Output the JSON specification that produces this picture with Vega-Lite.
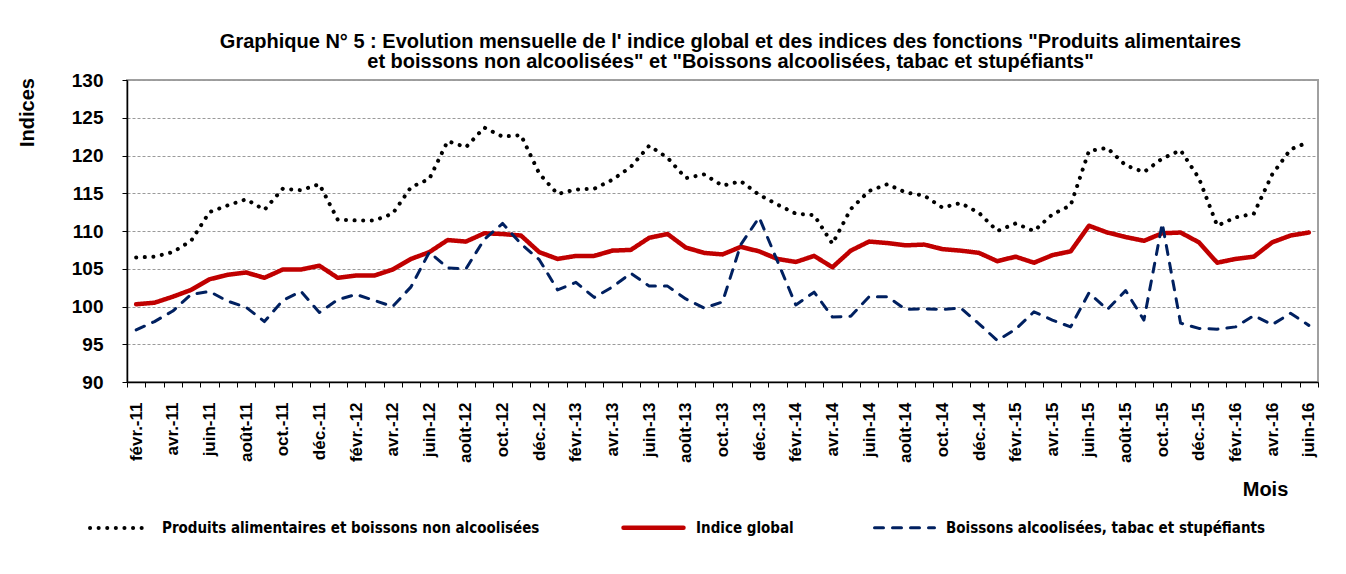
{
  "$schema": "https://vega.github.io/schema/vega-lite/v6.json",
  "width": 1191,
  "height": 302,
  "autosize": {"type": "none"},
  "padding": {"left": 127, "top": 80, "right": 28, "bottom": 192},
  "background": "white",
  "title": {
    "text": ["Graphique N° 5 : Evolution mensuelle de l' indice global  et des indices des fonctions \"Produits alimentaires", "et boissons  non alcoolisées\" et \"Boissons alcoolisées, tabac et stupéfiants\""],
    "font": "Liberation Sans",
    "fontSize": 20,
    "fontWeight": "bold",
    "anchor": "middle",
    "frame": "group",
    "offset": 6,
    "dx": 8,
    "dy": 7,
    "lineHeight": 20,
    "color": "#000000"
  },
  "data": {
    "values": [
      {"mois": "févr.-11", "alim": 106.5, "global": 100.3, "boissons": 96.9},
      {"mois": "mars-11", "alim": 106.6, "global": 100.5, "boissons": 98.0},
      {"mois": "avr.-11", "alim": 107.2, "global": 101.3, "boissons": 99.4},
      {"mois": "mai-11", "alim": 108.7, "global": 102.2, "boissons": 101.6},
      {"mois": "juin-11", "alim": 112.5, "global": 103.6, "boissons": 102.0},
      {"mois": "juil.-11", "alim": 113.4, "global": 104.2, "boissons": 100.7},
      {"mois": "août-11", "alim": 114.2, "global": 104.5, "boissons": 99.9},
      {"mois": "sept.-11", "alim": 112.8, "global": 103.8, "boissons": 98.0},
      {"mois": "oct.-11", "alim": 115.6, "global": 104.9, "boissons": 100.8},
      {"mois": "nov.-11", "alim": 115.4, "global": 104.9, "boissons": 102.0},
      {"mois": "déc.-11", "alim": 116.2, "global": 105.4, "boissons": 99.2},
      {"mois": "janv.-12", "alim": 111.5, "global": 103.8, "boissons": 100.9},
      {"mois": "févr.-12", "alim": 111.4, "global": 104.1, "boissons": 101.6},
      {"mois": "mars-12", "alim": 111.4, "global": 104.1, "boissons": 100.8},
      {"mois": "avr.-12", "alim": 112.3, "global": 104.9, "boissons": 100.0},
      {"mois": "mai-12", "alim": 115.8, "global": 106.3, "boissons": 102.6},
      {"mois": "juin-12", "alim": 116.9, "global": 107.2, "boissons": 107.2},
      {"mois": "juil.-12", "alim": 121.9, "global": 108.8, "boissons": 105.1},
      {"mois": "août-12", "alim": 121.1, "global": 108.6, "boissons": 105.0},
      {"mois": "sept.-12", "alim": 123.7, "global": 109.7, "boissons": 108.9},
      {"mois": "oct.-12", "alim": 122.5, "global": 109.6, "boissons": 111.0},
      {"mois": "nov.-12", "alim": 122.7, "global": 109.4, "boissons": 108.3},
      {"mois": "déc.-12", "alim": 117.6, "global": 107.2, "boissons": 106.2},
      {"mois": "janv.-13", "alim": 114.9, "global": 106.3, "boissons": 102.2},
      {"mois": "févr.-13", "alim": 115.5, "global": 106.7, "boissons": 103.2},
      {"mois": "mars-13", "alim": 115.6, "global": 106.7, "boissons": 101.2},
      {"mois": "avr.-13", "alim": 116.8, "global": 107.4, "boissons": 102.6},
      {"mois": "mai-13", "alim": 118.5, "global": 107.5, "boissons": 104.4},
      {"mois": "juin-13", "alim": 121.3, "global": 109.1, "boissons": 102.7},
      {"mois": "juil.-13", "alim": 119.7, "global": 109.6, "boissons": 102.7},
      {"mois": "août-13", "alim": 117.0, "global": 107.8, "boissons": 101.0},
      {"mois": "sept.-13", "alim": 117.5, "global": 107.1, "boissons": 99.8},
      {"mois": "oct.-13", "alim": 116.0, "global": 106.9, "boissons": 100.6},
      {"mois": "nov.-13", "alim": 116.6, "global": 107.9, "boissons": 108.2},
      {"mois": "déc.-13", "alim": 114.8, "global": 107.3, "boissons": 111.8},
      {"mois": "janv.-14", "alim": 113.5, "global": 106.3, "boissons": 106.0},
      {"mois": "févr.-14", "alim": 112.3, "global": 105.9, "boissons": 100.2},
      {"mois": "mars-14", "alim": 112.1, "global": 106.7, "boissons": 101.9},
      {"mois": "avr.-14", "alim": 108.3, "global": 105.2, "boissons": 98.6},
      {"mois": "mai-14", "alim": 112.9, "global": 107.4, "boissons": 98.7},
      {"mois": "juin-14", "alim": 115.3, "global": 108.6, "boissons": 101.3},
      {"mois": "juil.-14", "alim": 116.2, "global": 108.4, "boissons": 101.3},
      {"mois": "août-14", "alim": 115.1, "global": 108.1, "boissons": 99.6},
      {"mois": "sept.-14", "alim": 114.7, "global": 108.2, "boissons": 99.7},
      {"mois": "oct.-14", "alim": 113.1, "global": 107.6, "boissons": 99.6},
      {"mois": "nov.-14", "alim": 113.7, "global": 107.4, "boissons": 99.8},
      {"mois": "déc.-14", "alim": 112.4, "global": 107.1, "boissons": 97.7},
      {"mois": "janv.-15", "alim": 110.0, "global": 106.0, "boissons": 95.5},
      {"mois": "févr.-15", "alim": 111.0, "global": 106.6, "boissons": 97.0},
      {"mois": "mars-15", "alim": 110.0, "global": 105.8, "boissons": 99.3},
      {"mois": "avr.-15", "alim": 112.2, "global": 106.8, "boissons": 98.2},
      {"mois": "mai-15", "alim": 113.4, "global": 107.3, "boissons": 97.3},
      {"mois": "juin-15", "alim": 120.6, "global": 110.7, "boissons": 101.8},
      {"mois": "juil.-15", "alim": 121.0, "global": 109.8, "boissons": 99.6},
      {"mois": "août-15", "alim": 118.7, "global": 109.2, "boissons": 102.1},
      {"mois": "sept.-15", "alim": 117.8, "global": 108.7, "boissons": 98.2},
      {"mois": "oct.-15", "alim": 119.6, "global": 109.7, "boissons": 111.0},
      {"mois": "nov.-15", "alim": 120.7, "global": 109.8, "boissons": 97.8},
      {"mois": "déc.-15", "alim": 117.0, "global": 108.5, "boissons": 97.1},
      {"mois": "janv.-16", "alim": 110.7, "global": 105.8, "boissons": 97.0},
      {"mois": "févr.-16", "alim": 111.8, "global": 106.3, "boissons": 97.3},
      {"mois": "mars-16", "alim": 112.3, "global": 106.6, "boissons": 98.8},
      {"mois": "avr.-16", "alim": 117.5, "global": 108.5, "boissons": 97.6},
      {"mois": "mai-16", "alim": 120.8, "global": 109.4, "boissons": 99.1},
      {"mois": "juin-16", "alim": 121.8, "global": 109.8, "boissons": 97.5}
    ]
  },
  "transform": [{"fold": ["alim", "global", "boissons"], "as": ["serie", "valeur"]}],
  "mark": {"type": "line", "strokeCap": "round", "strokeJoin": "round"},
  "encoding": {
    "x": {
      "field": "mois",
      "type": "ordinal",
      "sort": null,
      "bandPosition": 0.5,
      "scale": {"type": "band", "paddingInner": 0, "paddingOuter": 0},
      "axis": {
        "title": "Mois",
        "titleFont": "Liberation Sans",
        "titleFontSize": 20,
        "titleFontWeight": "bold",
        "titleColor": "#000000",
        "titleX": 1138,
        "titleY": 107,
        "titleAlign": "center",
        "titleBaseline": "middle",
        "labelAngle": -90,
        "labelAlign": "right",
        "labelBaseline": "middle",
        "labelFont": "Liberation Sans",
        "labelFontSize": 17,
        "labelFontWeight": "bold",
        "labelColor": "#000000",
        "labelPadding": 15,
        "labelOverlap": false,
        "labelExpr": "test(/^(mars|mai|juil|sept|nov|janv)/, datum.value) ? '' : datum.value",
        "tickBand": "extent",
        "tickSize": 5,
        "tickColor": "#000000",
        "domainColor": "#000000",
        "domainWidth": 1.5,
        "grid": false
      }
    },
    "y": {
      "field": "valeur",
      "type": "quantitative",
      "scale": {"domain": [90, 130], "zero": false, "nice": false},
      "axis": {
        "values": [90, 95, 100, 105, 110, 115, 120, 125, 130],
        "title": "Indices",
        "titleFont": "Liberation Sans",
        "titleFontSize": 20,
        "titleFontWeight": "bold",
        "titleColor": "#000000",
        "titleX": -100,
        "titleY": 32,
        "titleAlign": "center",
        "titleBaseline": "middle",
        "titleAngle": -90,
        "labelFont": "Liberation Sans",
        "labelFontSize": 19,
        "labelFontWeight": "bold",
        "labelColor": "#000000",
        "labelPadding": 19,
        "tickSize": 5,
        "tickColor": "#000000",
        "domainColor": "#000000",
        "domainWidth": 1.5,
        "grid": true,
        "gridColor": "#9a9a9a",
        "gridDash": [3, 2],
        "gridWidth": 1
      }
    },
    "color": {
      "field": "serie",
      "type": "nominal",
      "scale": {"domain": ["alim", "global", "boissons"], "range": ["#000000", "#c00000", "#002060"]},
      "legend": {
        "orient": "none",
        "legendX": -39,
        "legendY": 415,
        "direction": "horizontal",
        "title": null,
        "symbolType": "stroke",
        "symbolSize": 3600,
        "symbolStrokeWidth": 3,
        "labelFont": "DejaVu Sans Condensed",
        "labelFontSize": 15,
        "labelFontWeight": "bold",
        "labelColor": "#000000",
        "labelOffset": 10,
        "labelLimit": 600,
        "columnPadding": 74,
        "labelExpr": "datum.value == 'alim' ? 'Produits alimentaires et boissons non alcoolisées' : datum.value == 'global' ? 'Indice global' : 'Boissons alcoolisées, tabac et stupéfiants'",
        "encode": {"symbols": {"update": {"strokeCap": {"value": "round"}}}}
      }
    },
    "strokeDash": {
      "field": "serie",
      "type": "nominal",
      "scale": {"domain": ["alim", "global", "boissons"], "range": [[0.1, 8.5], [1, 0], [9, 9]]},
      "legend": null
    },
    "strokeWidth": {
      "field": "serie",
      "type": "nominal",
      "scale": {"type": "ordinal", "domain": ["alim", "global", "boissons"], "range": [4, 4.5, 3]},
      "legend": null
    }
  },
  "config": {
    "view": {"stroke": "#a0a0a0", "strokeWidth": 2},
    "font": "Liberation Sans"
  }
}
